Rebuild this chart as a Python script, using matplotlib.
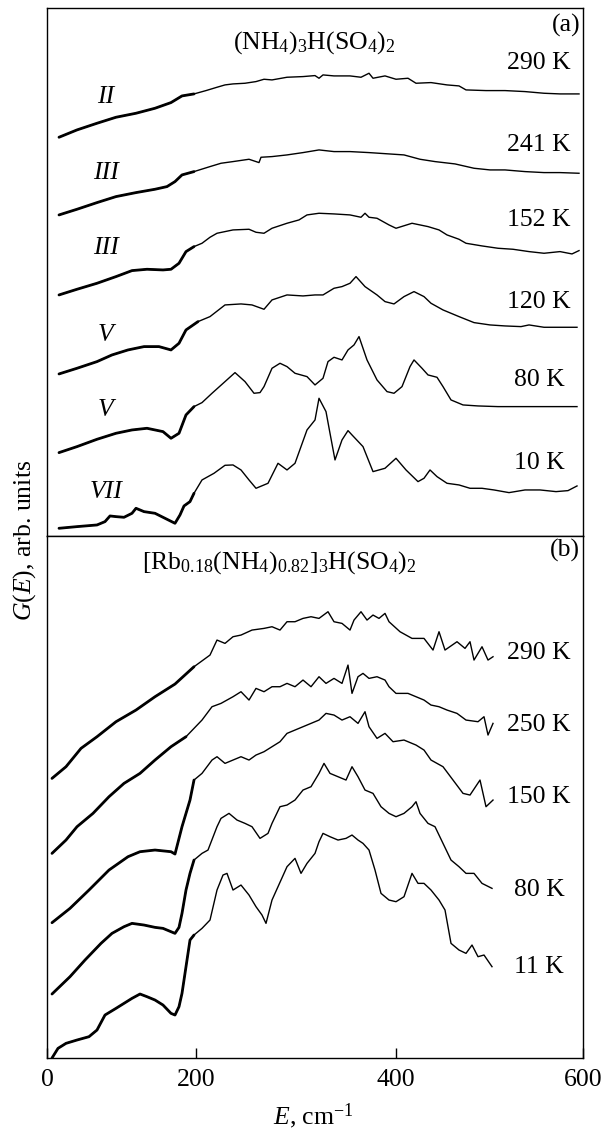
import matplotlib
matplotlib.use("Agg")
import matplotlib.pyplot as plt

# ---------------------------------------------------------------
# Panel (a): (NH4)3H(SO4)2, G(E) in arb. units, curves shifted up
# ---------------------------------------------------------------
E_A290 = [63, 81, 101, 120, 140, 159, 175, 186, 198, 210, 221, 229, 237, 249, 260, 268, 276,
          291, 307, 319, 323, 327, 338, 354, 365, 373, 377, 389, 400, 412, 420, 435, 451, 463,
          470, 490, 509, 529, 548, 564, 583]
G_A290 = [1196, 1218, 1238, 1256, 1268, 1283, 1300, 1320, 1326, 1336, 1346, 1353, 1356, 1358,
          1363, 1370, 1368, 1376, 1378, 1381, 1373, 1383, 1380, 1380, 1376, 1388, 1373, 1380,
          1370, 1373, 1358, 1360, 1353, 1350, 1338, 1336, 1336, 1333, 1328, 1326, 1326]

E_A241 = [63, 81, 101, 120, 140, 159, 171, 179, 186, 198, 214, 225, 237, 253, 263, 265, 276,
          291, 307, 323, 338, 354, 373, 393, 408, 424, 439, 459, 478, 494, 509, 529, 548, 564, 583]
G_A241 = [963, 980, 1000, 1018, 1030, 1040, 1048, 1063, 1083, 1093, 1108, 1118, 1123, 1130,
          1120, 1136, 1138, 1143, 1150, 1158, 1153, 1153, 1150, 1146, 1143, 1130, 1123, 1116,
          1103, 1098, 1098, 1093, 1090, 1090, 1088]

E_A152 = [63, 81, 101, 120, 136, 151, 167, 175, 183, 190, 198, 206, 214, 221, 237, 253, 260,
          268, 276, 291, 303, 311, 323, 338, 354, 365, 369, 373, 381, 393, 400, 416, 432, 443,
          451, 463, 470, 486, 502, 517, 533, 548, 564, 576, 583]
G_A152 = [723, 740, 758, 778, 796, 800, 798, 800, 818, 853, 868, 878, 896, 908, 918, 920, 911,
          908, 923, 938, 948, 963, 968, 966, 963, 956, 968, 956, 953, 933, 923, 938, 928, 918,
          903, 890, 878, 870, 863, 860, 853, 848, 853, 846, 856]

E_A120 = [63, 81, 101, 116, 132, 148, 163, 175, 183, 190, 202, 214, 229, 245, 256, 268, 276,
          291, 307, 319, 327, 338, 346, 354, 360, 369, 381, 389, 398, 408, 418, 428, 435, 447,
          463, 478, 494, 509, 525, 533, 548, 564, 581]
G_A120 = [486, 503, 523, 543, 558, 568, 568, 558, 578, 618, 643, 658, 693, 696, 693, 680, 708,
          723, 720, 723, 723, 743, 748, 758, 778, 748, 723, 703, 696, 718, 733, 718, 698, 678,
          658, 640, 633, 630, 628, 633, 626, 626, 626]

E_A80 = [63, 81, 101, 120, 136, 151, 167, 175, 183, 190, 198, 206, 216, 229, 239, 249, 258,
         264, 268, 276, 284, 291, 299, 311, 319, 327, 332, 338, 346, 352, 358, 363, 371, 381,
         391, 398, 406, 414, 418, 426, 432, 441, 447, 455, 467, 482, 502, 521, 541, 564, 581]
G_A80 = [250, 268, 290, 308, 318, 323, 313, 293, 308, 363, 388, 400, 428, 463, 490, 463, 428,
         430, 448, 503, 518, 508, 488, 478, 453, 473, 523, 536, 528, 558, 573, 598, 528, 468,
         433, 428, 448, 508, 528, 503, 483, 476, 448, 408, 393, 390, 388, 388, 388, 388, 388]

E_A10 = [63, 81, 101, 109, 114, 120, 128, 136, 140, 148, 159, 171, 179, 184, 188, 194, 198,
         206, 218, 229, 237, 245, 253, 260, 272, 282, 291, 299, 311, 319, 323, 330, 334, 339,
         346, 352, 356, 367, 377, 389, 400, 410, 422, 428, 434, 441, 451, 463, 474, 486, 498,
         513, 529, 544, 560, 572, 581]
G_A10 = [23, 28, 33, 43, 60, 58, 56, 68, 83, 73, 68, 50, 38, 63, 90, 103, 128, 168, 188, 212,
         213, 198, 168, 143, 158, 218, 198, 218, 318, 348, 413, 373, 308, 228, 288, 316, 303,
         268, 193, 203, 233, 198, 163, 173, 198, 178, 158, 153, 143, 143, 138, 130, 138, 138,
         133, 136, 150]

# ---------------------------------------------------------------
# Panel (b): [Rb0.18(NH4)0.82]3H(SO4)2
# ---------------------------------------------------------------
E_B290 = [56, 70, 85, 101, 120, 140, 159, 179, 198, 214, 221, 229, 237, 245, 256, 268, 276,
          284, 291, 299, 307, 315, 323, 332, 338, 346, 354, 358, 365, 371, 377, 383, 389, 393,
          404, 416, 428, 437, 443, 449, 461, 469, 474, 478, 486, 492, 497]
G_B290 = [839, 874, 929, 964, 1009, 1044, 1084, 1122, 1174, 1209, 1254, 1244, 1264, 1269,
          1284, 1289, 1294, 1284, 1309, 1309, 1319, 1324, 1319, 1339, 1309, 1304, 1284, 1314,
          1339, 1314, 1329, 1319, 1334, 1309, 1279, 1259, 1259, 1224, 1279, 1224, 1249, 1229,
          1249, 1194, 1234, 1194, 1204]

E_B250 = [56, 70, 81, 97, 113, 128, 144, 159, 175, 190, 206, 216, 225, 237, 245, 253, 260,
          268, 276, 284, 291, 299, 307, 315, 323, 330, 338, 346, 352, 356, 362, 367, 373, 381,
          389, 393, 400, 412, 420, 428, 435, 443, 451, 461, 470, 482, 488, 492, 497]
G_B250 = [614, 654, 694, 734, 784, 824, 854, 894, 934, 964, 1014, 1054, 1064, 1084, 1099,
          1074, 1109, 1099, 1114, 1114, 1124, 1114, 1134, 1114, 1144, 1124, 1139, 1124, 1179,
          1094, 1144, 1154, 1139, 1144, 1134, 1114, 1094, 1094, 1084, 1074, 1059, 1054, 1044,
          1034, 1014, 1009, 1024, 969, 1004]

E_B150 = [56, 74, 93, 113, 132, 144, 159, 175, 179, 186, 194, 198, 206, 216, 221, 229, 237,
          245, 253, 260, 268, 276, 284, 291, 299, 307, 315, 323, 330, 338, 346, 354, 362, 369,
          373, 381, 389, 397, 408, 420, 428, 435, 447, 457, 467, 474, 484, 490, 497]
G_B150 = [406, 449, 504, 564, 604, 619, 624, 619, 612, 694, 774, 834, 854, 894, 904, 884, 894,
          904, 894, 909, 919, 934, 949, 974, 984, 994, 1004, 1014, 1034, 1029, 1014, 1024, 1004,
          1039, 994, 959, 974, 949, 954, 939, 924, 894, 874, 834, 794, 789, 834, 754, 774]

E_B80 = [56, 74, 89, 105, 116, 128, 136, 148, 159, 167, 175, 179, 183, 186, 190, 194, 198,
         206, 212, 221, 225, 233, 241, 249, 256, 264, 272, 276, 284, 291, 299, 307, 315, 323,
         328, 334, 342, 350, 356, 362, 369, 377, 385, 393, 400, 408, 416, 420, 424, 432, 439,
         447, 455, 463, 470, 478, 486, 496]
G_B80 = [192, 244, 294, 344, 374, 394, 404, 399, 392, 389, 379, 374, 392, 434, 504, 554, 594,
         614, 624, 694, 719, 734, 714, 704, 694, 659, 674, 704, 754, 759, 774, 804, 814, 854,
         884, 854, 844, 834, 874, 844, 804, 794, 754, 734, 724, 734, 754, 769, 734, 704, 694,
         644, 594, 574, 554, 554, 524, 509]

E_B11 = [56, 62, 70, 81, 93, 101, 109, 120, 128, 136, 144, 151, 159, 167, 175, 179, 183, 186,
         190, 194, 198, 206, 214, 221, 227, 231, 237, 245, 253, 260, 266, 270, 276, 282, 291,
         299, 305, 311, 319, 323, 327, 334, 342, 350, 356, 362, 367, 373, 379, 385, 393, 400,
         408, 416, 422, 428, 435, 443, 449, 455, 463, 470, 476, 482, 488, 496]
G_B11 = [0, 29, 44, 54, 64, 84, 129, 149, 164, 179, 192, 184, 174, 159, 134, 129, 154, 194,
         274, 354, 369, 389, 414, 504, 549, 554, 504, 519, 489, 454, 429, 404, 474, 514, 574,
         599, 554, 584, 614, 649, 674, 664, 654, 659, 669, 654, 644, 624, 564, 494, 474, 469,
         484, 554, 524, 524, 504, 474, 444, 344, 324, 314, 339, 304, 309, 274]

# labels: (temperature text, label height) and phase numerals
TEMPS_A = [("290 K", 1419), ("241 K", 1173), ("152 K", 948),
           ("120 K", 702), ("80 K", 468), ("10 K", 219)]
PHASES_A = [("II", 1317), ("III", 1089), ("III", 864),
            ("V", 603), ("V", 378), ("VII", 132)]
TEMPS_B = [("290 K", 1215), ("250 K", 999), ("150 K", 783),
           ("80 K", 504), ("11 K", 273)]

CURVES_A = [(E_A290, G_A290), (E_A241, G_A241), (E_A152, G_A152),
            (E_A120, G_A120), (E_A80, G_A80), (E_A10, G_A10)]
CURVES_B = [(E_B290, G_B290), (E_B250, G_B250), (E_B150, G_B150),
            (E_B80, G_B80), (E_B11, G_B11)]

X_MIN, X_MAX = 51, 587
THICK_END = 205  # low-energy part of each spectrum is drawn heavier (dense noisy points)
FS = 18.5


def draw_curve(ax, e, g):
    ax.plot(e, g, color="black", lw=1.0)
    lo = [i for i, v in enumerate(e) if v <= THICK_END]
    ax.plot([e[i] for i in lo], [g[i] for i in lo], color="black", lw=2.0,
            solid_capstyle="round")


def setup(ax, ymax):
    ax.set_xlim(X_MIN, X_MAX)
    ax.set_ylim(0, ymax)
    ax.set_yticks([])
    for sp in ax.spines.values():
        sp.set_linewidth(1.0)


def main():
    plt.rcParams["font.family"] = "Liberation Serif"
    plt.rcParams["mathtext.fontset"] = "custom"
    plt.rcParams["mathtext.rm"] = "Liberation Serif"
    plt.rcParams["mathtext.it"] = "Liberation Serif:italic"

    fig = plt.figure(figsize=(6.08, 11.30), dpi=100)
    ax_a = fig.add_axes([0.0773, 0.5257, 0.8816, 0.4673])
    ax_b = fig.add_axes([0.0773, 0.0637, 0.8816, 0.4619])

    # panel (a)
    setup(ax_a, 1584)
    ax_a.set_xticks([])
    for e, g in CURVES_A:
        draw_curve(ax_a, e, g)
    for txt, y in TEMPS_A:
        ax_a.text(543, y, txt, ha="center", va="center", fontsize=FS)
    for txt, y in PHASES_A:
        ax_a.text(110, y, txt, ha="center", va="center", fontsize=FS, style="italic")
    ax_a.text(318, 1479, r"(NH$_4$)$_3$H(SO$_4$)$_2$", ha="center", va="center", fontsize=FS)
    ax_a.text(0.995, 0.967, "(a)", transform=ax_a.transAxes, ha="right", va="center", fontsize=FS)

    # panel (b)
    setup(ax_b, 1566)
    for e, g in CURVES_B:
        draw_curve(ax_b, e, g)
    for txt, y in TEMPS_B:
        ax_b.text(543, y, txt, ha="center", va="center", fontsize=FS)
    ax_b.text(283, 1485, r"[Rb$_{0.18}$(NH$_4$)$_{0.82}$]$_3$H(SO$_4$)$_2$",
              ha="center", va="center", fontsize=FS)
    ax_b.text(0.995, 0.972, "(b)", transform=ax_b.transAxes, ha="right", va="center", fontsize=FS)

    ax_b.set_xticks([X_MIN, 200, 400, X_MAX], labels=["0", "200", "400", "600"])
    ax_b.tick_params(axis="x", direction="in", length=7, width=1.0, pad=8, labelsize=FS)

    fig.text(313 / 608, 1 - 1116 / 1130, r"$E$, cm$^{-1}$", ha="center", va="center", fontsize=FS)
    fig.text(25 / 608, 1 - 540 / 1130, r"$G$($E$), arb. units", ha="center", va="center",
             rotation=90, fontsize=FS)

    fig.savefig("out.png", dpi=100)
    plt.close(fig)


if __name__ == "__main__":
    main()
